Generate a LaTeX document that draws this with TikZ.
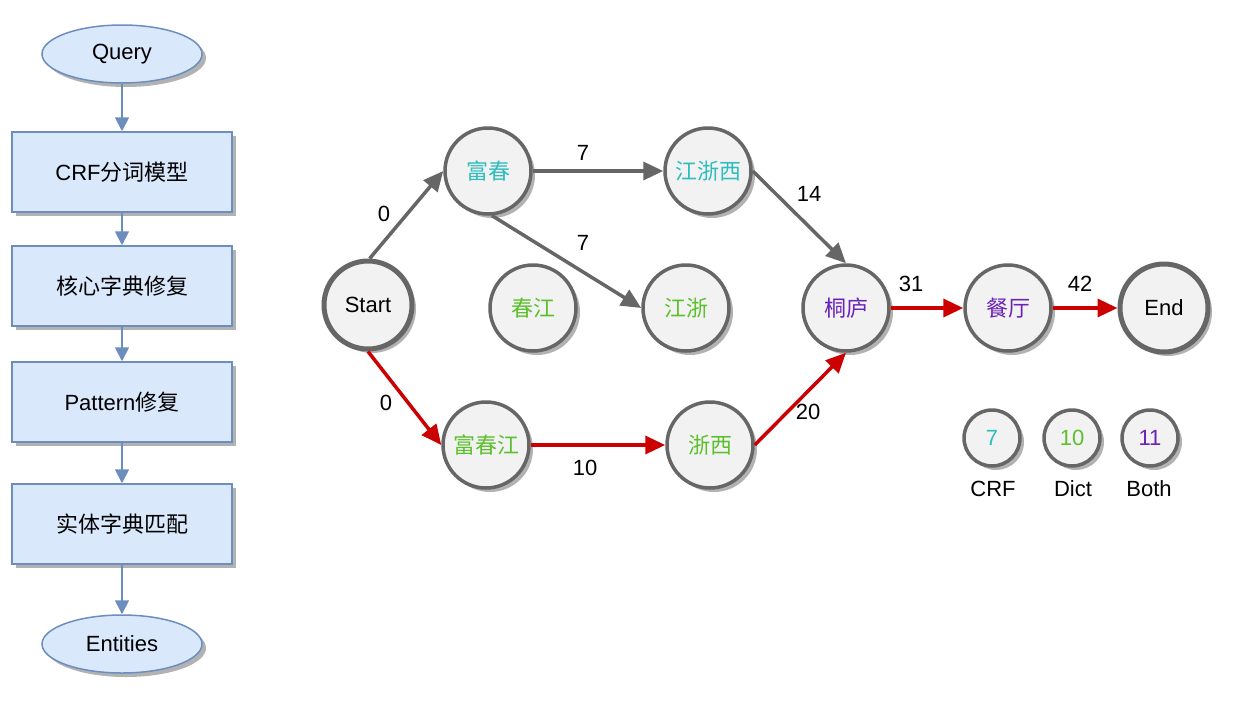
\documentclass[tikz,border=0pt]{standalone}
\usepackage{fontspec}
\setmainfont{Liberation Sans}
\newfontfamily\cjk{Noto Sans CJK SC}
\newcommand{\zh}[1]{{\cjk #1}}
\usetikzlibrary{shapes.geometric,shadows,arrows.meta}
\definecolor{crf}{HTML}{2EBDBD}
\definecolor{dict}{HTML}{5CC02C}
\definecolor{both}{HTML}{6A22B8}
\definecolor{boxf}{HTML}{DAE8FC}
\definecolor{boxd}{HTML}{6C8EBF}
\definecolor{gr}{HTML}{666666}
\definecolor{rd}{HTML}{CC0000}
\begin{document}
\begin{tikzpicture}[x=1pt,y=-1pt,
  fs/.style={font=\fontsize{22}{26}\selectfont},
  sh/.style={drop shadow={shadow xshift=4pt,shadow yshift=-4pt,fill=black!30,opacity=1}},
  term/.style={ellipse,draw=boxd,fill=boxf,line width=1.5pt,minimum width=160pt,minimum height=58pt,fs,sh,inner sep=0pt},
  box/.style={rectangle,draw=boxd,fill=boxf,line width=1.5pt,minimum width=220pt,minimum height=80pt,fs,sh},
  flow/.style={draw=boxd,line width=1.8pt,-{Triangle[length=14pt,width=14pt]}},
  st/.style={circle,draw=gr,fill=black!5,line width=5pt,minimum size=88pt,inner sep=0pt,fs,sh},
  sti/.style={circle,draw=gr,fill=black!5,line width=3.5pt,minimum size=86pt,inner sep=0pt,fs,sh},
  lg/.style={circle,draw=gr,fill=black!5,line width=3.5pt,minimum size=56pt,inner sep=0pt,fs,sh},
  ga/.style={draw=gr,line width=3.5pt,-{Triangle[length=20pt,width=18pt]}},
  ra/.style={draw=rd,line width=3.5pt,-{Triangle[length=20pt,width=18pt]}},
  lab/.style={fs,inner sep=1pt}]
\useasboundingbox (0,0) rectangle (1234,702);
% flowchart
\node[term] (q) at (122,54) {Query};
\node[box] (b1) at (122,172) {CRF\zh{分词模型}};
\node[box] (b2) at (122,286) {\zh{核心字典修复}};
\node[box] (b3) at (122,402) {Pattern\zh{修复}};
\node[box] (b4) at (122,524) {\zh{实体字典匹配}};
\node[term] (e) at (122,644) {Entities};
\draw[flow] (q) -- (b1);
\draw[flow] (b1) -- (b2);
\draw[flow] (b2) -- (b3);
\draw[flow] (b3) -- (b4);
\draw[flow] (b4) -- (e);
% graph
\node[st] (s) at (368,305) {Start};
\node[sti,text=crf] (fc) at (488,171) {\zh{富春}};
\node[sti,text=crf] (jzx) at (708,171) {\zh{江浙西}};
\node[sti,text=dict] (cj) at (533,308) {\zh{春江}};
\node[sti,text=dict] (jz) at (686,308) {\zh{江浙}};
\node[sti,text=dict] (fcj) at (486,445) {\zh{富春江}};
\node[sti,text=dict] (zx) at (710,445) {\zh{浙西}};
\node[sti,text=both] (tl) at (846,308) {\zh{桐庐}};
\node[sti,text=both] (ct) at (1008,308) {\zh{餐厅}};
\node[st] (end) at (1164,308) {End};
\draw[ga] (s.88) -- (fc.west);
\draw[ga] (fc) -- (jzx);
\draw[ga] (fc.275) -- (jz.west);
\draw[ga] (jzx.east) -- (tl.north);
\draw[ra] (s.south) -- (fcj.west);
\draw[ra] (fcj) -- (zx);
\draw[ra] (zx.east) -- (tl.south);
\draw[ra] (tl) -- (ct);
\draw[ra] (ct) -- (end);
\node[lab] (l1) at (384,214) {0};
\node[lab] (l2) at (583,153) {7};
\node[lab] (l3) at (583,243) {7};
\node[lab] (l4) at (809,194) {14};
\node[lab] (l5) at (386,403) {0};
\node[lab] (l6) at (585,468) {10};
\node[lab] (l7) at (808,412) {20};
\node[lab] (l8) at (911,284) {31};
\node[lab] (l9) at (1080,284) {42};
% legend
\node[lg,text=crf] (c1) at (992,438) {7};
\node[lg,text=dict] (c2) at (1072,438) {10};
\node[lg,text=both] (c3) at (1150,438) {11};
\node[lab] (t1) at (993,489) {CRF};
\node[lab] (t2) at (1073,489) {Dict};
\node[lab] (t3) at (1149,489) {Both};
\end{tikzpicture}
\end{document}
